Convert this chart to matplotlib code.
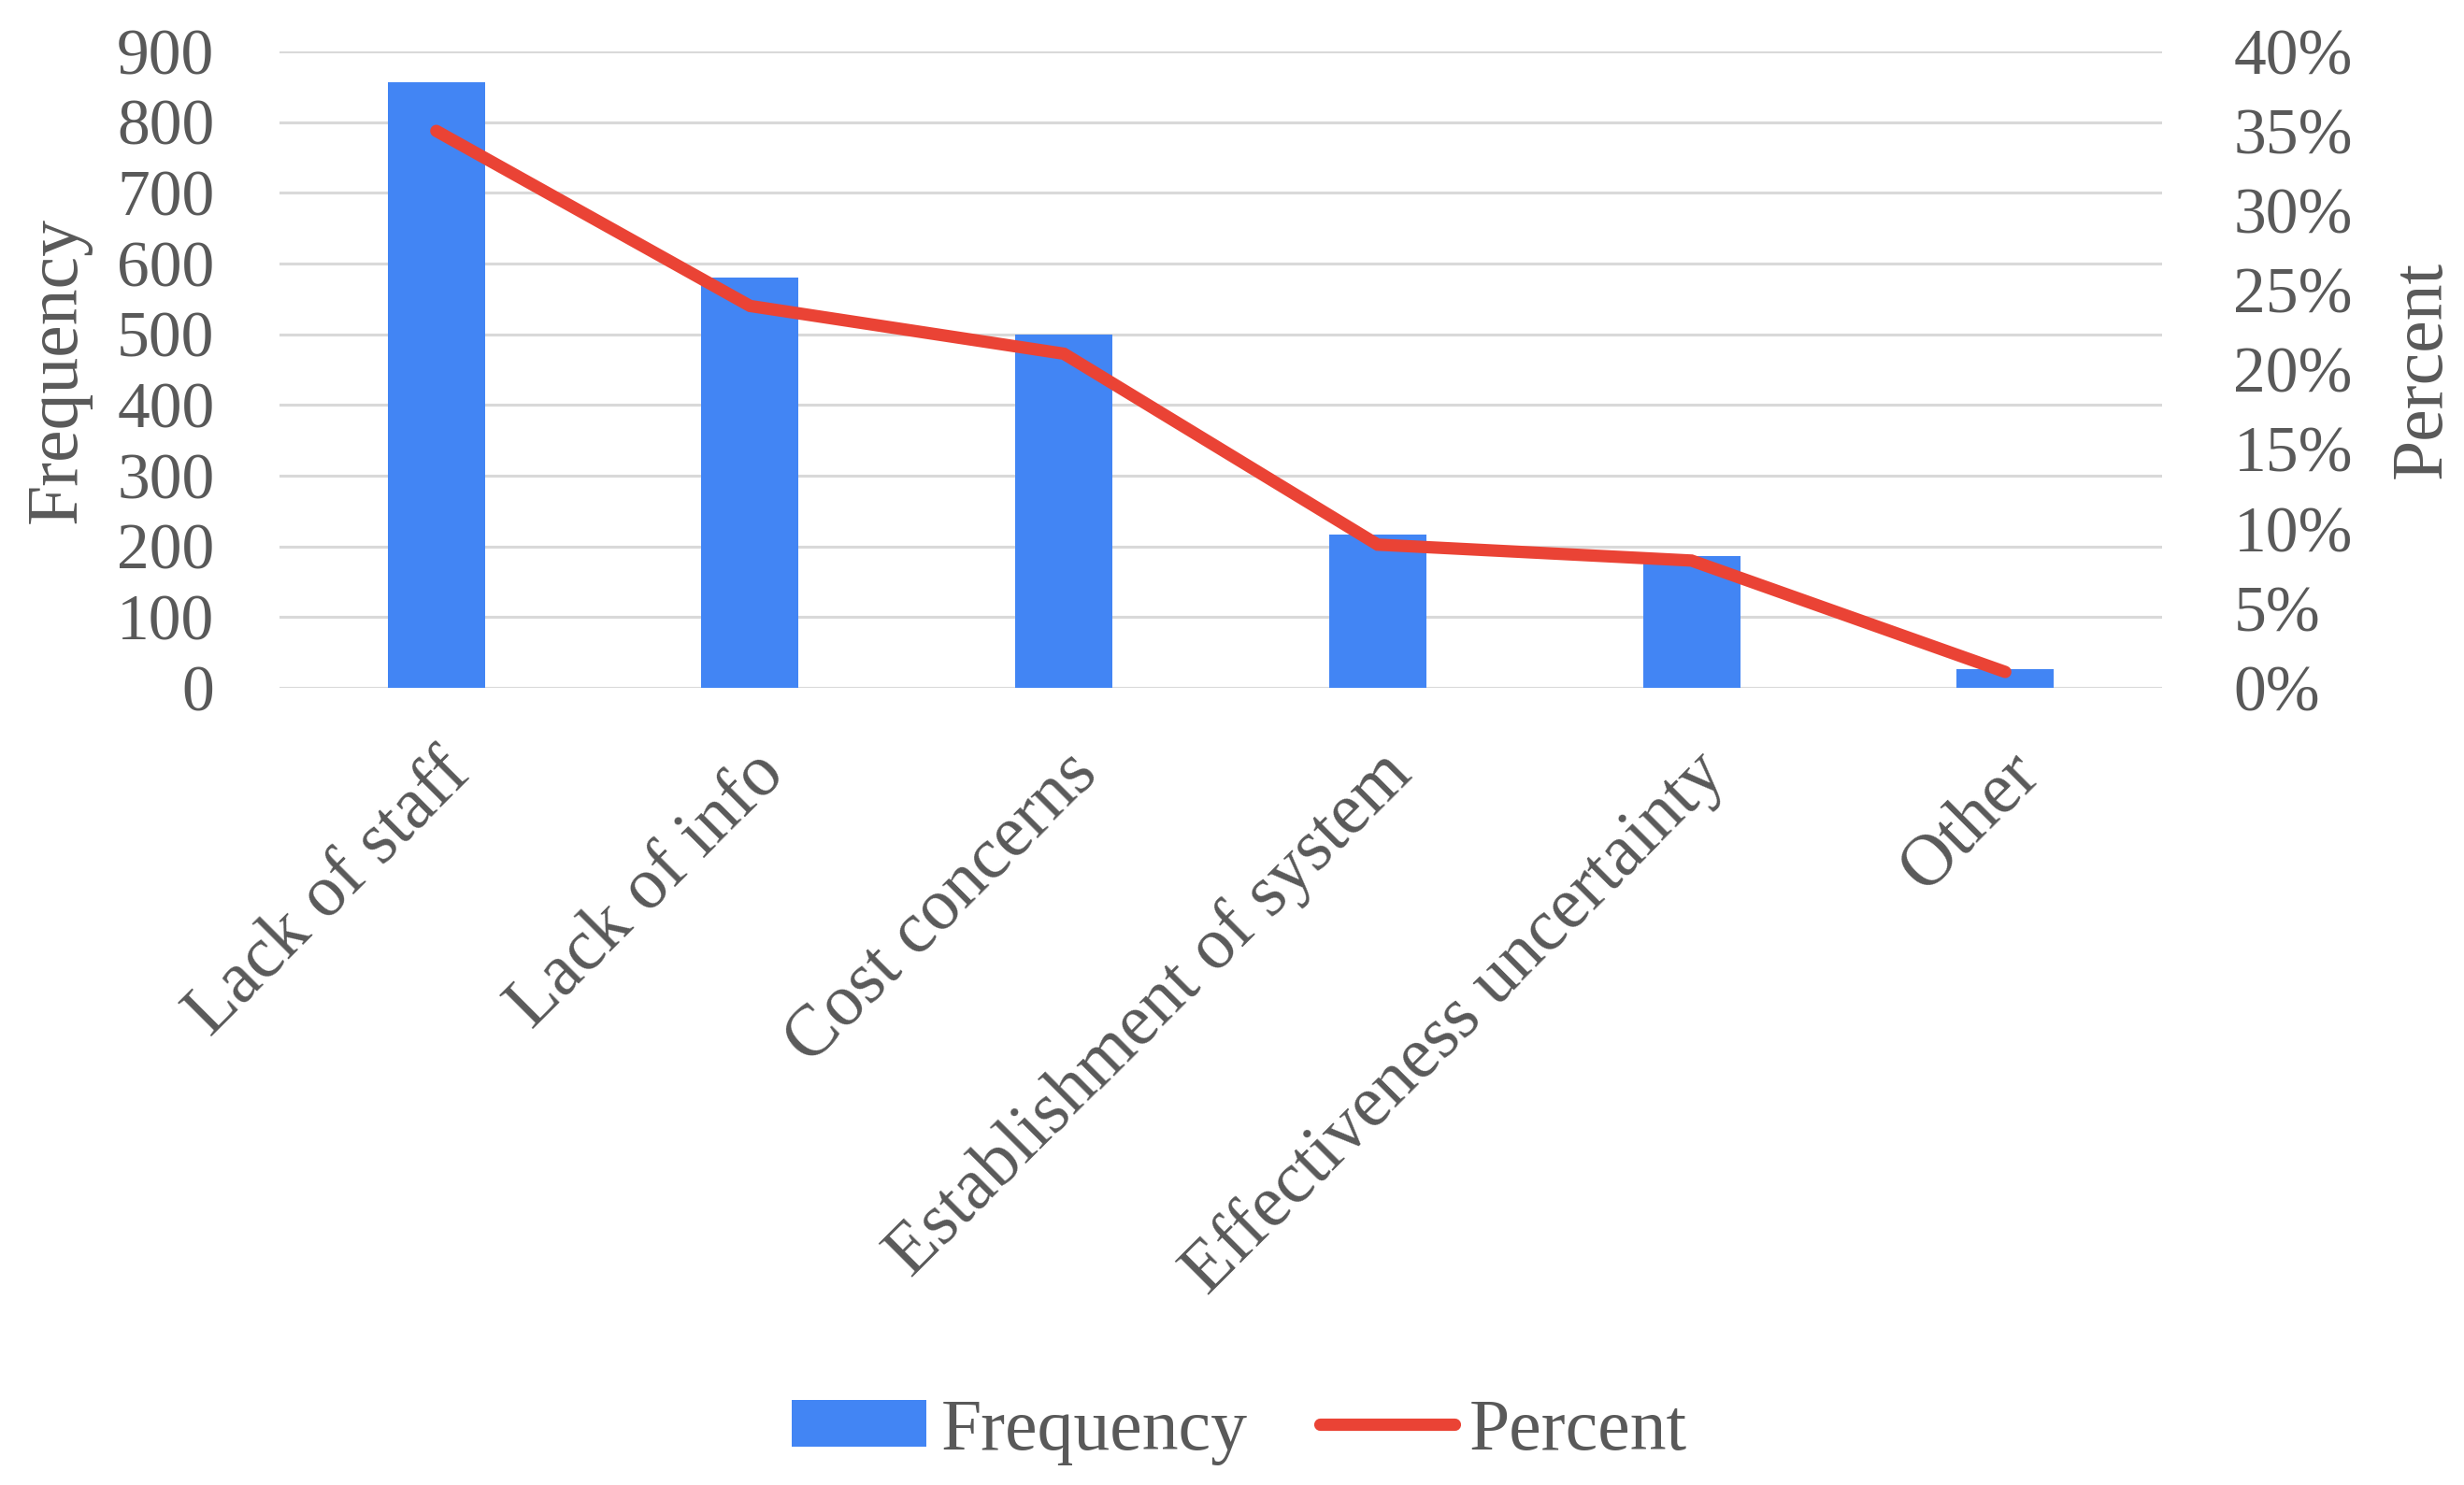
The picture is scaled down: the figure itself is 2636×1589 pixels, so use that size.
import matplotlib.pyplot as plt
from matplotlib.ticker import FuncFormatter
import numpy as np

categories = ['Lack of staff', 'Lack of info', 'Cost concerns',
              'Establishment of system', 'Effectiveness uncertainty', 'Other']
frequency = [857, 580, 500, 217, 187, 27]
percent = [35, 24, 21, 9, 8, 1]

freq_ticks = [0, 100, 200, 300, 400, 500, 600, 700, 800, 900]
pct_ticks = [0, 5, 10, 15, 20, 25, 30, 35, 40]

blue = '#4285F4'
red = '#EA4335'
txt = '#595959'

plt.rcParams['font.family'] = ['Liberation Serif', 'DejaVu Serif']

fig = plt.figure(figsize=(26.36, 15.89), dpi=100)
ax = fig.add_axes([0.1134, 0.5368, 0.7641, 0.4286])
ax2 = ax.twinx()

x = np.arange(len(categories))
bars = ax.bar(x, frequency, width=0.31, color=blue, zorder=2, label='Frequency')
line, = ax2.plot(x, percent, color=red, lw=9.5, solid_capstyle='round',
                 solid_joinstyle='miter', zorder=3, label='Percent')

ax.set_xlim(-0.5, len(categories) - 0.5)
ax.set_ylim(0, 900)
ax.set_yticks(freq_ticks)
ax2.set_ylim(0, 40)
ax2.set_yticks(pct_ticks)
ax2.yaxis.set_major_formatter(FuncFormatter(lambda v, p: '%d%%' % v))

ax.grid(axis='y', color='#d9d9d9', lw=2.2, zorder=0)
ax.set_axisbelow(True)
for a in (ax, ax2):
    for s in a.spines.values():
        s.set_visible(False)
    a.tick_params(length=0, labelsize=50, labelcolor=txt)
ax.tick_params(axis='y', pad=50)
ax2.tick_params(axis='y', pad=55)

ax.set_xticks(x)
ax.set_xticklabels(categories, rotation=45, ha='right', rotation_mode='anchor',
                   fontsize=56, color=txt)
ax.tick_params(axis='x', pad=40)

ax.set_ylabel('Frequency', fontsize=56, color=txt, labelpad=20)
ax2.set_ylabel('Percent', fontsize=56, color=txt, labelpad=28)

# legend at the bottom
fig.legend([bars, line], ['Frequency', 'Percent'], loc='center',
           bbox_to_anchor=(0.503, 0.036), ncol=2, frameon=False,
           fontsize=56, labelcolor=txt, handlelength=1.85, handleheight=0.6,
           columnspacing=1.0, handletextpad=0.2)

fig.savefig('out.png', dpi=100, facecolor='white')
